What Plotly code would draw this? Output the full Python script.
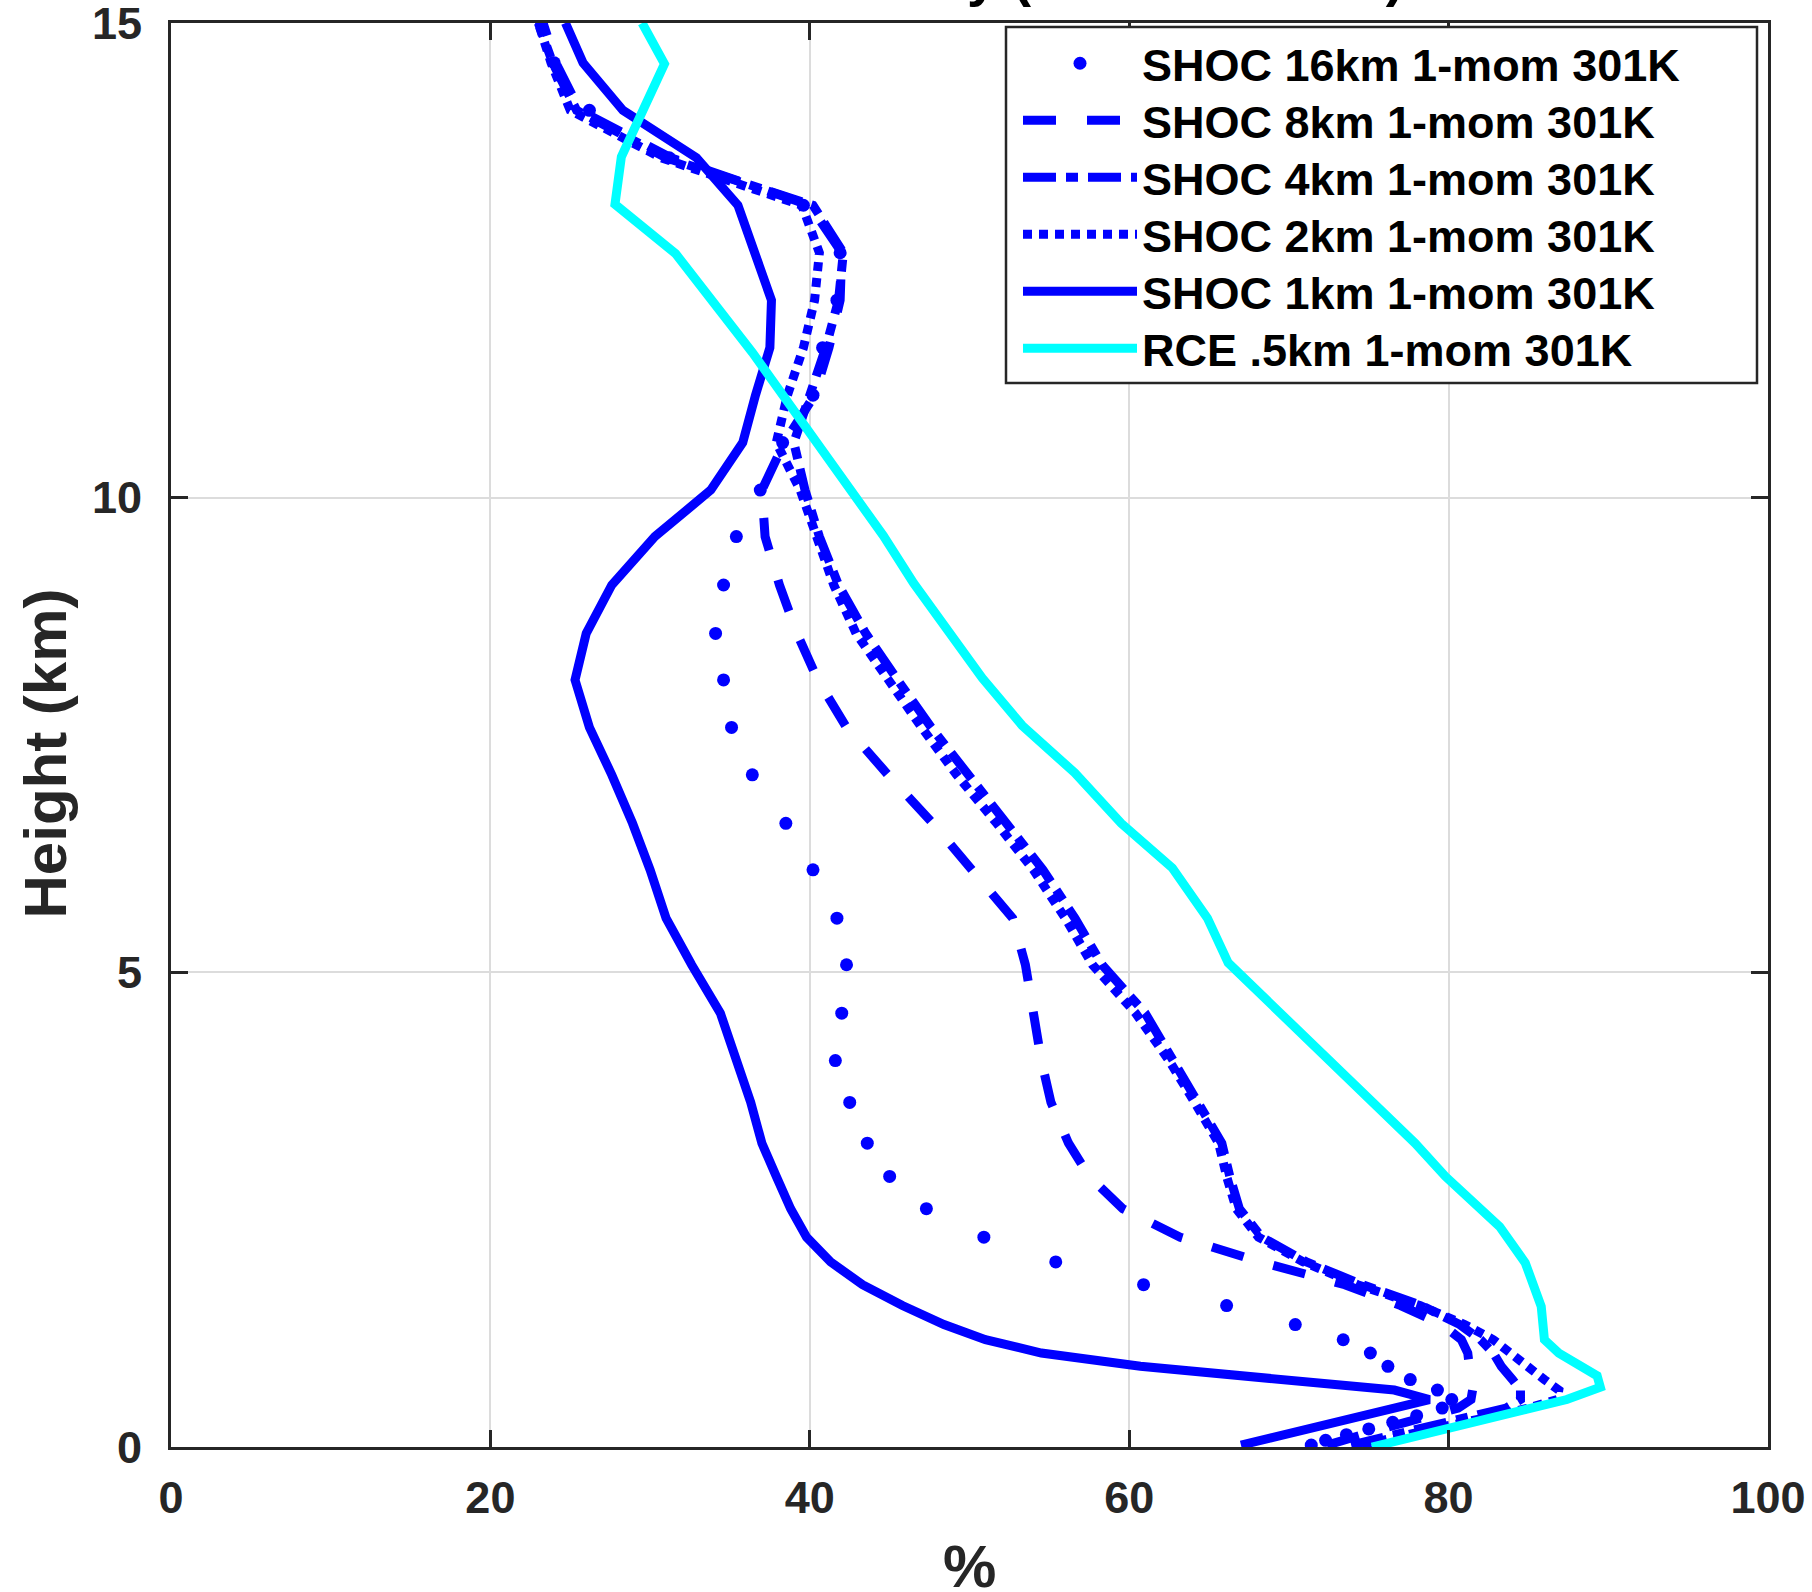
import plotly.graph_objects as go

# Model levels (km) shared by the SHOC profiles
levels = [0.02, 0.07, 0.13, 0.19, 0.26, 0.33, 0.41, 0.50, 0.60, 0.71,
          0.85, 0.99, 1.13, 1.29, 1.49, 1.71, 1.95, 2.21, 2.51, 2.85,
          3.20, 3.63, 4.07, 4.57, 5.08, 5.57, 6.08, 6.57, 7.08, 7.58,
          8.08, 8.57, 9.08, 9.59, 10.08, 10.58, 11.08, 11.58, 12.08, 12.58,
          13.08, 13.58, 14.08, 14.58, 15.00]

rh_16km = [71.4, 72.3, 73.6, 75.0, 76.5, 78.0, 79.6, 80.2, 79.3, 77.6,
           76.2, 75.1, 73.4, 70.4, 66.1, 60.9, 55.4, 50.9, 47.3, 45.0,
           43.6, 42.5, 41.6, 42.0, 42.3, 41.7, 40.2, 38.5, 36.4, 35.1,
           34.6, 34.1, 34.6, 35.4, 36.9, 38.3, 40.2, 40.8, 41.7, 41.9,
           39.6, 31.2, 26.2, 24.0, 23.2]

rh_8km = [72.4, 73.3, 74.5, 75.8, 77.3, 79.0, 80.6, 81.4, 81.5, 81.4,
          81.3, 81.2, 80.8, 79.6, 77.0, 73.5, 68.2, 63.2, 59.6, 57.5,
          56.2, 55.1, 54.5, 54.0, 53.5, 52.7, 50.2, 47.7, 44.9, 42.3,
          40.5, 39.2, 38.1, 37.2, 37.0, 38.4, 40.3, 41.2, 41.9, 42.0,
          40.0, 31.3, 25.6, 24.1, 23.3]

rh_4km = [73.9, 75.2, 76.8, 78.3, 80.0, 81.8, 83.6, 84.5, 84.5, 84.0,
          83.3, 82.8, 82.0, 80.7, 78.3, 74.6, 71.1, 68.3, 66.9, 66.3,
          65.8, 64.3, 62.8, 61.0, 58.3, 56.6, 54.6, 52.3, 49.8, 47.6,
          45.5, 43.5, 41.8, 40.6, 39.7, 39.0, 40.0, 41.0, 41.8, 42.1,
          40.2, 31.0, 25.4, 23.9, 23.0]

rh_2km = [74.6, 75.8, 77.3, 79.0, 81.0, 82.9, 85.0, 86.8, 86.9, 86.0,
          85.0, 84.0, 82.8, 81.0, 78.2, 74.3, 70.9, 68.1, 66.7, 66.1,
          65.6, 64.1, 62.5, 60.4, 57.7, 56.0, 54.0, 51.7, 49.2, 47.0,
          44.9, 42.9, 41.5, 40.4, 39.4, 37.9, 38.6, 39.6, 40.3, 40.6,
          39.5, 30.7, 25.0, 23.8, 23.0]

rh_1km = [67.0, 68.2, 69.7, 71.2, 72.9, 74.6, 76.6, 78.8, 76.6, 69.4,
          60.7, 54.5, 51.0, 48.4, 45.8, 43.3, 41.3, 39.8, 38.8, 37.9,
          37.0, 36.3, 35.4, 34.4, 32.6, 31.0, 30.0, 28.9, 27.6, 26.2,
          25.3, 26.0, 27.6, 30.3, 33.8, 35.8, 36.6, 37.5, 37.6, 36.5,
          35.5, 32.9, 28.3, 25.8, 24.7]

# RCE 0.5 km profile (own levels)
rce_levels = [0.00, 0.21, 0.50, 0.63, 0.75, 0.99, 1.13, 1.48, 1.94, 2.32,
              2.60, 2.85, 3.20, 5.10, 5.57, 6.10, 6.57, 7.10, 7.60, 8.10,
              9.10, 9.60, 11.53, 12.57, 13.09, 13.59, 14.57, 15.00]
rh_rce = [75.2, 80.1, 87.4, 89.5, 89.3, 86.9, 86.0, 85.8, 84.8, 83.2,
          81.5, 79.8, 77.9, 66.2, 64.9, 62.7, 59.5, 56.6, 53.3, 50.8,
          46.5, 44.6, 36.4, 31.6, 27.8, 28.2, 30.9, 29.5]

series_names = ["SHOC 16km 1-mom 301K", "SHOC 8km 1-mom 301K",
                "SHOC 4km 1-mom 301K", "SHOC 2km 1-mom 301K",
                "SHOC 1km 1-mom 301K", "RCE .5km 1-mom 301K"]

x_ticks = [0, 20, 40, 60, 80, 100]
y_ticks = [0, 5, 10, 15]

title_text = "Relative Humidity (domain mean)"
x_title = "%"
y_title = "Height (km)"

FONT = "Liberation Sans, Arial, Helvetica, sans-serif"
BLUE = "#0000FF"
CYAN = "#00FFFF"
LW = 9

# figure geometry (px)
W, H = 1812, 1592
ML, MR, MT, MB = 171, 44, 23, 145
PW, PH = W - ML - MR, H - MT - MB


def px_x(x):
    return (x - ML) / PW


def px_y(y):
    return (H - MB - y) / PH


legend_ids = ["legend", "legend2", "legend3", "legend4", "legend5", "legend6"]
legend_rows_px = [63.5, 120.5, 177.5, 234.5, 291.5, 348.5]

fig = go.Figure()
fig.add_trace(go.Scatter(x=rh_16km, y=levels, mode="markers", name=series_names[0],
                         legend=legend_ids[0],
                         marker=dict(color=BLUE, size=13, line=dict(width=0))))
fig.add_trace(go.Scatter(x=rh_8km, y=levels, mode="lines", name=series_names[1],
                         legend=legend_ids[1],
                         line=dict(color=BLUE, width=LW, dash="33px,31px")))
fig.add_trace(go.Scatter(x=rh_4km, y=levels, mode="lines", name=series_names[2],
                         legend=legend_ids[2],
                         line=dict(color=BLUE, width=LW, dash="33px,10px,12px,10px")))
fig.add_trace(go.Scatter(x=rh_2km, y=levels, mode="lines", name=series_names[3],
                         legend=legend_ids[3],
                         line=dict(color=BLUE, width=LW, dash="9px,7px")))
fig.add_trace(go.Scatter(x=rh_1km, y=levels, mode="lines", name=series_names[4],
                         legend=legend_ids[4],
                         line=dict(color=BLUE, width=LW)))
fig.add_trace(go.Scatter(x=rh_rce, y=rce_levels, mode="lines", name=series_names[5],
                         legend=legend_ids[5],
                         line=dict(color=CYAN, width=LW)))

axis_common = dict(
    showgrid=True, gridcolor="#dcdcdc", gridwidth=2,
    zeroline=False, showline=True, linecolor="#262626", linewidth=3,
    mirror="ticks", ticks="inside", ticklen=17, tickwidth=2.5, tickcolor="#262626",
    ticklabeloverflow="allow",
    tickfont=dict(family=FONT, size=45, color="#262626", weight="bold"),
)

fig.update_xaxes(range=[0, 100], tickvals=x_ticks, ticktext=[str(v) for v in x_ticks],
                 ticklabelstandoff=9, **axis_common)
fig.update_yaxes(range=[0, 15], tickvals=y_ticks, ticktext=[str(v) for v in y_ticks],
                 ticklabelstandoff=17, **axis_common)

legend_layout = {}
for lid, row in zip(legend_ids, legend_rows_px):
    legend_layout[lid] = dict(
        x=px_x(1018), y=px_y(row), xanchor="left", yanchor="middle",
        bgcolor="rgba(0,0,0,0)", borderwidth=0,
        font=dict(family=FONT, size=45, color="black", weight="bold"),
        itemwidth=114,
    )

fig.update_layout(
    width=W, height=H,
    margin=dict(l=ML, r=MR, t=MT, b=MB, autoexpand=False),
    paper_bgcolor="white", plot_bgcolor="white",
    font=dict(family=FONT, color="black"),
    showlegend=True,
    shapes=[dict(type="rect", xref="paper", yref="paper",
                 x0=px_x(1006), x1=px_x(1757), y0=px_y(383), y1=px_y(27),
                 line=dict(color="#262626", width=2.5), fillcolor="white",
                 layer="above")],
    annotations=[
        dict(text=title_text, xref="paper", yref="paper", x=0.5, y=1.0096,
             xanchor="center", yanchor="bottom", showarrow=False,
             font=dict(family=FONT, size=55, color="black", weight="bold")),
        dict(text=x_title, xref="paper", yref="paper", x=0.5, y=-0.0836,
             xanchor="center", yanchor="middle", showarrow=False,
             font=dict(family=FONT, size=60, color="#262626", weight="bold")),
        dict(text=y_title, xref="paper", yref="paper", x=-0.0783, y=0.487,
             xanchor="center", yanchor="middle", showarrow=False, textangle=-90,
             font=dict(family=FONT, size=60, color="#262626", weight="bold")),
    ],
    **legend_layout,
)

fig.write_html("out.html")
